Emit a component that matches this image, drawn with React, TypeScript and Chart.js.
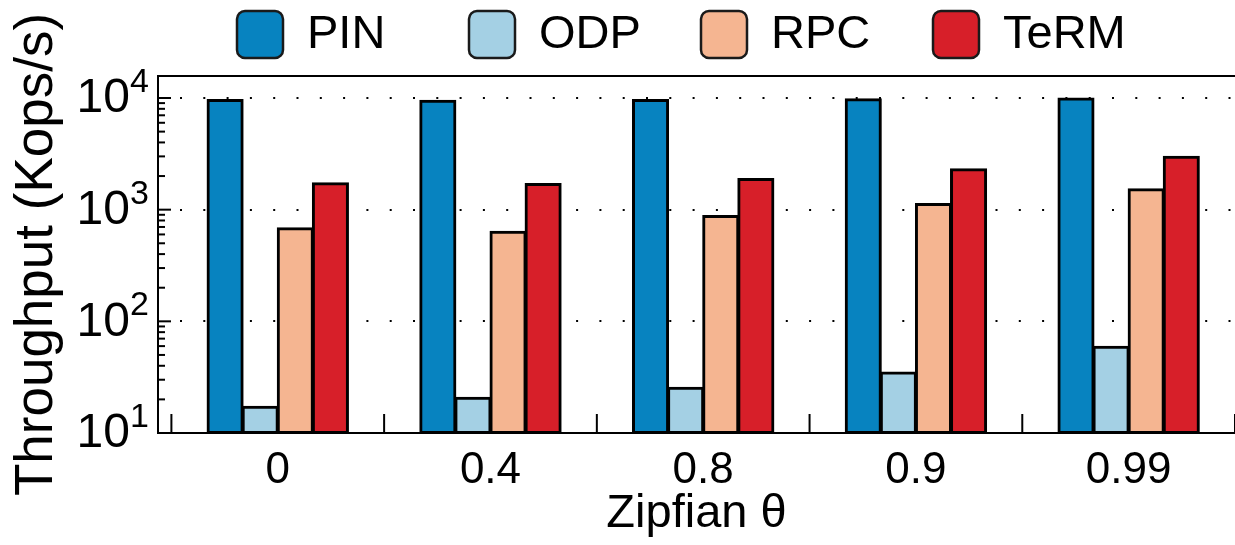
import React, { useEffect, useRef } from 'react';
import { Chart, registerables } from 'chart.js';

Chart.register(...registerables);

const categories = ['0', '0.4', '0.8', '0.9', '0.99'];
const seriesNames = ['PIN', 'ODP', 'RPC', 'TeRM'];
const pinValues = [9600, 9460, 9600, 9730, 9900];
const odpValues = [17.2, 20.7, 25.4, 34.8, 59.3];
const rpcValues = [681, 635, 879, 1124, 1524];
const termValues = [1722, 1698, 1884, 2300, 2978];
const yTickValues = [10, 100, 1000, 10000];
const yMin = 10;
const yMax = 15740;
const xMin = -0.563;
const xMax = 4.5;
const seriesColors = ['#0783c0', '#a4d0e4', '#f5b591', '#d71f29'];

const FONT = '"Liberation Sans", Arial, Helvetica, sans-serif';

const decorPlugin = {
  id: 'decor',
  afterDraw(chart: any) {
    const { ctx, chartArea, scales } = chart;
    const xs = scales.x;
    const ys = scales.y;
    ctx.save();
    ctx.strokeStyle = '#000';
    ctx.lineWidth = 2;
    // top frame line
    ctx.beginPath();
    ctx.moveTo(chartArea.left - 1, chartArea.top);
    ctx.lineTo(chartArea.right, chartArea.top);
    ctx.stroke();
    // y major/minor inner ticks
    for (let d = 1; d <= 4; d++) {
      const base = Math.pow(10, d);
      const yp = ys.getPixelForValue(base);
      ctx.beginPath();
      ctx.moveTo(chartArea.left, yp);
      ctx.lineTo(chartArea.left + 13, yp);
      ctx.stroke();
      for (let m = 2; m <= 9; m++) {
        const v = m * base;
        if (v > yMax) continue;
        const p = ys.getPixelForValue(v);
        ctx.beginPath();
        ctx.moveTo(chartArea.left, p);
        ctx.lineTo(chartArea.left + 7, p);
        ctx.stroke();
      }
    }
    // x boundary ticks (inside)
    for (let k = 0; k <= categories.length; k++) {
      const xp = xs.getPixelForValue(k - 0.5);
      if (xp < chartArea.left || xp > chartArea.right + 1) continue;
      ctx.beginPath();
      ctx.moveTo(xp, chartArea.bottom);
      ctx.lineTo(xp, chartArea.bottom - 19);
      ctx.stroke();
    }
    // y tick labels with superscript exponents
    ctx.fillStyle = '#000';
    yTickValues.forEach((v) => {
      const yp = ys.getPixelForValue(v);
      const exp = Math.round(Math.log10(v));
      ctx.font = `48px ${FONT}`;
      ctx.textAlign = 'right';
      ctx.textBaseline = 'middle';
      ctx.fillText('10', 130, yp + 1);
      ctx.font = `34px ${FONT}`;
      ctx.textAlign = 'left';
      ctx.textBaseline = 'alphabetic';
      ctx.fillText(String(exp), 130, yp - 6);
    });
    // legend
    chart.data.datasets.forEach((ds: any, i: number) => {
      const bx = 236 + i * 232;
      const by = 10;
      ctx.beginPath();
      (ctx as any).roundRect(bx + 1, by + 1, 46, 47, 8);
      ctx.fillStyle = ds.backgroundColor;
      ctx.fill();
      ctx.lineWidth = 2.5;
      ctx.strokeStyle = '#1a1a1a';
      ctx.stroke();
      ctx.fillStyle = '#000';
      ctx.font = `47px ${FONT}`;
      ctx.textAlign = 'left';
      ctx.textBaseline = 'middle';
      ctx.fillText(ds.label, bx + 71, by + 25);
    });
    ctx.restore();
  },
};

export default function App() {
  const canvasRef = useRef<HTMLCanvasElement | null>(null);

  useEffect(() => {
    const canvas = canvasRef.current;
    if (!canvas) return;
    const seriesValues = [pinValues, odpValues, rpcValues, termValues];
    const chart = new Chart(canvas, {
      type: 'bar',
      data: {
        datasets: seriesNames.map((name, si) => ({
          label: name,
          data: seriesValues[si].map((v, i) => ({ x: i, y: v })),
          backgroundColor: seriesColors[si],
          borderColor: '#000',
          borderWidth: 3,
          borderSkipped: false,
          inflateAmount: 1,
          categoryPercentage: 0.66,
          barPercentage: 1.0,
        })),
      },
      options: {
        animation: false,
        responsive: false,
        devicePixelRatio: 1,
        layout: { padding: { top: 76, left: 0, right: 0, bottom: 0 } },
        font: { family: FONT },
        plugins: {
          legend: { display: false },
          tooltip: { enabled: false },
          title: { display: false },
        },
        scales: {
          x: {
            type: 'linear',
            min: xMin,
            max: xMax,
            offset: false,
            afterBuildTicks: (scale: any) => {
              scale.ticks = categories.map((_, i) => ({ value: i }));
            },
            afterFit: (scale: any) => {
              scale.height = 112;
            },
            ticks: {
              autoSkip: false,
              maxRotation: 0,
              padding: 11,
              color: '#000',
              font: { size: 44, family: FONT },
              callback: (v: any) => categories[Math.round(Number(v))] ?? '',
            },
            grid: { display: false, drawTicks: false },
            border: { display: true, color: '#000', width: 2 },
            title: {
              display: true,
              text: 'Zipfian θ',
              color: '#000',
              font: { size: 47, family: FONT },
              padding: { top: 0, bottom: 3 },
            },
          },
          y: {
            type: 'logarithmic',
            min: yMin,
            max: yMax,
            afterBuildTicks: (scale: any) => {
              scale.ticks = yTickValues.map((v) => ({ value: v }));
            },
            afterFit: (scale: any) => {
              scale.width = 158;
            },
            ticks: { display: false },
            grid: {
              display: true,
              drawTicks: false,
              color: '#000',
              lineWidth: 2,
              borderDash: [2, 21.3],
            } as any,
            border: { display: true, color: '#000', width: 2, dash: [2, 21.3], dashOffset: -21 },
            title: {
              display: true,
              text: 'Throughput (Kops/s)',
              color: '#000',
              font: { size: 53, family: FONT },
              padding: { top: 6, bottom: 0 },
            },
          },
        },
      } as any,
      plugins: [decorPlugin],
    });
    return () => chart.destroy();
  }, []);

  return (
    <div style={{ position: 'absolute', left: 0, top: 0, width: 1235, height: 545, background: '#fff' }}>
      <canvas ref={canvasRef} width={1235} height={545} style={{ display: 'block' }} />
    </div>
  );
}
